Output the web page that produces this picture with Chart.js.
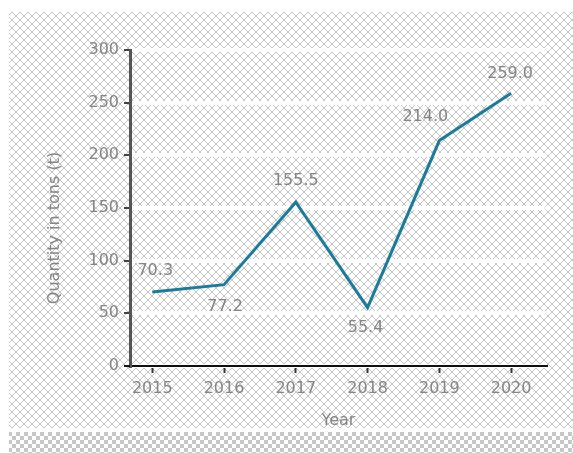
<!DOCTYPE html>
<html>
<head>
<meta charset="utf-8">
<script src="https://cdn.jsdelivr.net/npm/chart.js@4.4.1/dist/chart.umd.min.js"></script>
<style>
  html, body { margin: 0; padding: 0; background: #fff; }
  #wrap { width: 573px; height: 453px; }
</style>
</head>
<body>
<div id="wrap"><canvas id="chart" width="573" height="453"></canvas></div>
<script>
// 数据
const years = [2015, 2016, 2017, 2018, 2019, 2020];
const quantity = [70.3, 77.2, 155.5, 55.4, 214.0, 259.0];
const yTicks = [0, 50, 100, 150, 200, 250, 300];

const textColor = '#858585';
const font = { family: 'DejaVu Sans', size: 16 };

// 标签相对点的偏移
const labelSpots = [[3, -21], [1, 22], [0, -21], [-2, 20], [-14, -24], [-1, -19]];

/** 交叉网纹背景 */
function makePattern(kind) {
  const c = document.createElement('canvas');
  c.width = 8; c.height = 8;
  const g = c.getContext('2d');
  g.fillStyle = '#fff';
  g.fillRect(0, 0, 8, 8);
  if (kind === 'x') {
    g.fillStyle = '#c4c4c4';
    for (let i = 0; i < 8; i++) {
      g.fillRect(i, i, 1, 1);
      g.fillRect(7 - i, i, 1, 1);
    }
  } else {
    g.fillStyle = '#c6c6c6';
    g.fillRect(0, 0, 4, 4);
    g.fillRect(4, 4, 4, 4);
  }
  return g.createPattern(c, 'repeat');
}

const backdrop = {
  id: 'backdrop',
  beforeDraw(chart) {
    const { ctx } = chart;
    ctx.save();
    ctx.fillStyle = '#fff';
    ctx.fillRect(0, 0, chart.width, chart.height);
    ctx.fillStyle = makePattern('x');
    ctx.fillRect(9, 12, chart.width - 9, 416);
    ctx.fillStyle = makePattern('check');
    ctx.fillRect(9, 432, chart.width - 9, chart.height - 432);
    ctx.restore();
  },
};

const pointLabels = {
  id: 'pointLabels',
  afterDatasetsDraw(chart) {
    const { ctx } = chart;
    const meta = chart.getDatasetMeta(0);
    ctx.save();
    ctx.font = `${font.size}px ${font.family}`;
    ctx.fillStyle = textColor;
    ctx.textAlign = 'center';
    ctx.textBaseline = 'middle';
    meta.data.forEach((pt, i) => {
      const [dx, dy] = labelSpots[i];
      ctx.fillText(quantity[i].toFixed(1), pt.x + dx, pt.y + dy);
    });
    ctx.restore();
  },
};

// 纵轴标题 + 横轴向左延伸一点
const extras = {
  id: 'extras',
  afterDraw(chart) {
    const { ctx, chartArea } = chart;
    ctx.save();
    ctx.strokeStyle = '#111';
    ctx.lineWidth = 2;
    ctx.beginPath();
    ctx.moveTo(124, chartArea.bottom);
    ctx.lineTo(chartArea.left, chartArea.bottom);
    ctx.stroke();

    ctx.translate(55, 228);
    ctx.rotate(-Math.PI / 2);
    ctx.font = `${font.size}px ${font.family}`;
    ctx.fillStyle = textColor;
    ctx.textAlign = 'center';
    ctx.textBaseline = 'middle';
    ctx.fillText('Quantity in tons (t)', 0, 0);
    ctx.restore();
  },
};

new Chart(document.getElementById('chart'), {
  type: 'line',
  data: {
    datasets: [{
      data: years.map((y, i) => ({ x: y, y: quantity[i] })),
      borderColor: '#1b7b9c',
      borderWidth: 3,
      pointRadius: 0,
      tension: 0,
    }],
  },
  options: {
    responsive: false,
    devicePixelRatio: 1,
    animation: false,
    layout: { padding: { left: 0, top: 50, right: 26, bottom: 0 } },
    plugins: {
      legend: { display: false },
      tooltip: { enabled: false },
    },
    scales: {
      x: {
        type: 'linear',
        min: 2014.69,
        max: 2020.5,
        afterBuildTicks: (s) => { s.ticks = years.map((v) => ({ value: v })); },
        afterFit: (s) => { s.height = 87; },
        ticks: {
          color: textColor,
          font,
          padding: 6,
          maxRotation: 0,
          callback: (v) => String(v),
        },
        grid: { drawOnChartArea: false, tickLength: 7, tickColor: '#333', tickWidth: 2 },
        border: { color: '#111', width: 2 },
        title: { display: true, text: 'Year', color: textColor, font, padding: { top: 0, bottom: 23 } },
      },
      y: {
        min: 0,
        max: 300,
        afterBuildTicks: (s) => { s.ticks = yTicks.map((v) => ({ value: v })); },
        afterFit: (s) => { s.width = 130; },
        ticks: { color: textColor, font, padding: 5 },
        grid: { color: '#fff', lineWidth: 4, tickLength: 6, tickColor: '#444', tickWidth: 2 },
        border: { color: '#555', width: 3 },
      },
    },
  },
  plugins: [backdrop, pointLabels, extras],
});
</script>
</body>
</html>
